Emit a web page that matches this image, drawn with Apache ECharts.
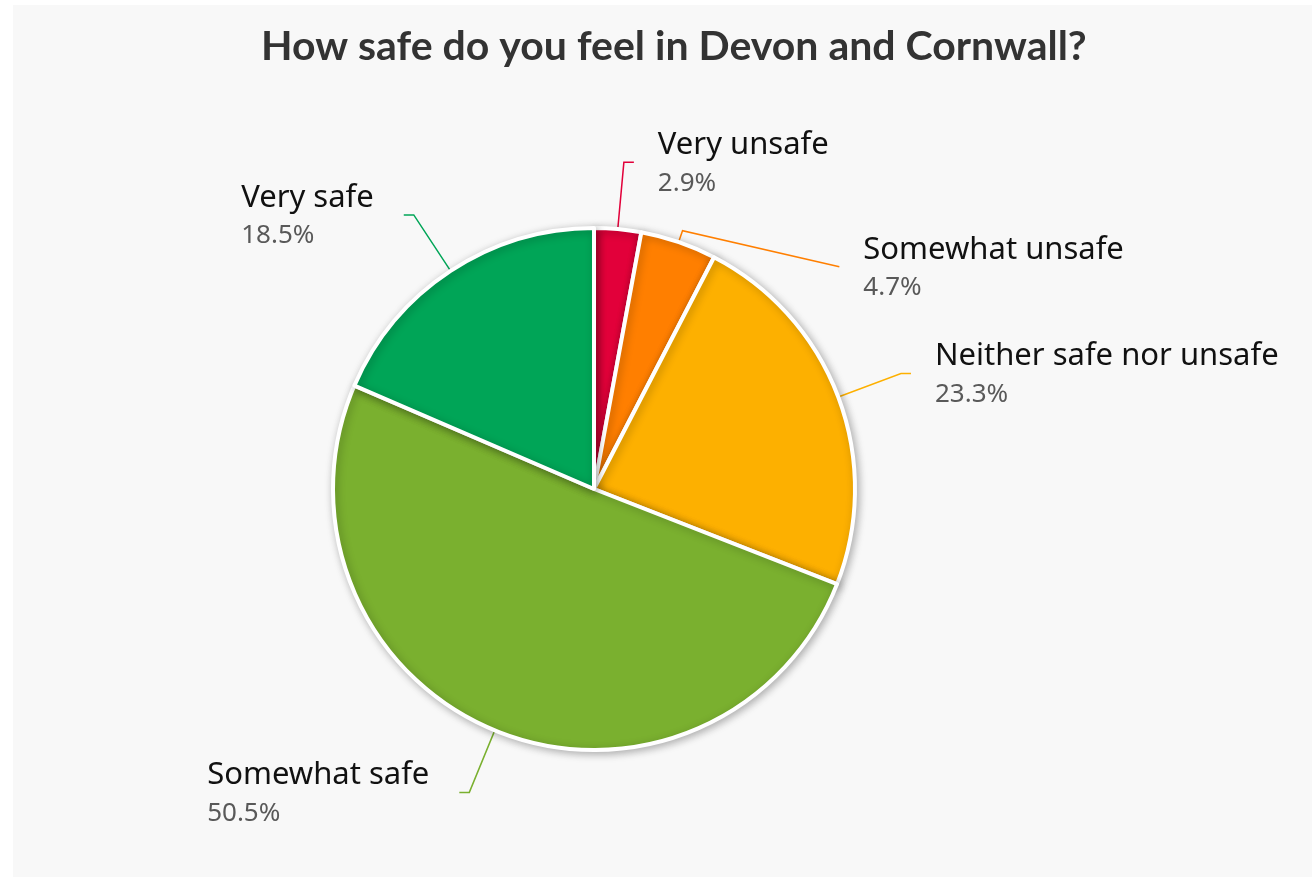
<!DOCTYPE html>
<html>
<head>
<meta charset="utf-8">
<script src="https://cdn.jsdelivr.net/npm/echarts@6/dist/echarts.min.js"></script>
<style>
  html, body { margin: 0; padding: 0; background: #ffffff; }
  #chart { position: absolute; left: 13px; top: 5px; width: 1299px; height: 872px; }
</style>
</head>
<body>
<div id="chart"></div>
<script>
const titleText = 'How safe do you feel in Devon and Cornwall?';
const categories = ['Very unsafe', 'Somewhat unsafe', 'Neither safe nor unsafe', 'Somewhat safe', 'Very safe'];
const values = [2.9, 4.7, 23.3, 50.5, 18.5];
const colors = ['#e2003a', '#ff7f00', '#fdb000', '#7ab02f', '#00a557'];
const leftSide = [false, false, false, true, true];

const chart = echarts.init(document.getElementById('chart'), null, { renderer: 'canvas' });

const data = categories.map((name, i) => ({
  name: name,
  value: values[i],
  itemStyle: { color: colors[i] },
  label: { distanceToLabelLine: leftSide[i] ? 30 : 24 },
  labelLine: { lineStyle: { color: colors[i] } }
}));

chart.setOption({
  backgroundColor: '#f8f8f8',
  animation: false,
  title: {
    text: titleText,
    left: 243,
    top: 16,
    textStyle: { fontFamily: 'Lato', fontWeight: 'bold', fontSize: 41, color: '#333333' }
  },
  series: [{
    type: 'pie',
    center: [581, 484],
    radius: 261,
    startAngle: 90,
    clockwise: true,
    avoidLabelOverlap: false,
    itemStyle: {
      borderColor: '#ffffff',
      borderWidth: 4,
      shadowBlur: 9,
      shadowOffsetX: 2,
      shadowOffsetY: 2,
      shadowColor: 'rgba(0,0,0,0.28)'
    },
    label: {
      show: true,
      position: 'outside',
      distanceToLabelLine: 24,
      formatter: p => '{n|' + p.name + '}\n{v|' + p.value.toFixed(1) + '%}',
      rich: {
        n: { fontFamily: 'Noto Sans', fontSize: 31, color: '#111111', lineHeight: 42, align: 'left' },
        v: { fontFamily: 'Noto Sans', fontSize: 26, color: '#595959', lineHeight: 34, align: 'left' }
      }
    },
    labelLine: {
      show: true,
      length: 67,
      length2: 10,
      lineStyle: { width: 1.5 }
    },
    labelLayout: function (params) {
      if (params.dataIndex !== 1 || !params.labelLinePoints) return {};
      const pts = params.labelLinePoints.map(p => p.slice());
      const p0 = pts[0], p1 = pts[1], p2 = pts[2];
      // shorten the first (radial) segment and send the label lower-right
      const bend = [p0[0] + (p1[0] - p0[0]) * 0.18, p0[1] + (p1[1] - p0[1]) * 0.18];
      const end = [p2[0] + 129, p2[1] + 88];
      return {
        x: end[0] + 24,
        y: end[1],
        align: 'left',
        verticalAlign: 'middle',
        labelLinePoints: [p0, bend, end]
      };
    },
    data: data
  }]
});
</script>
</body>
</html>
